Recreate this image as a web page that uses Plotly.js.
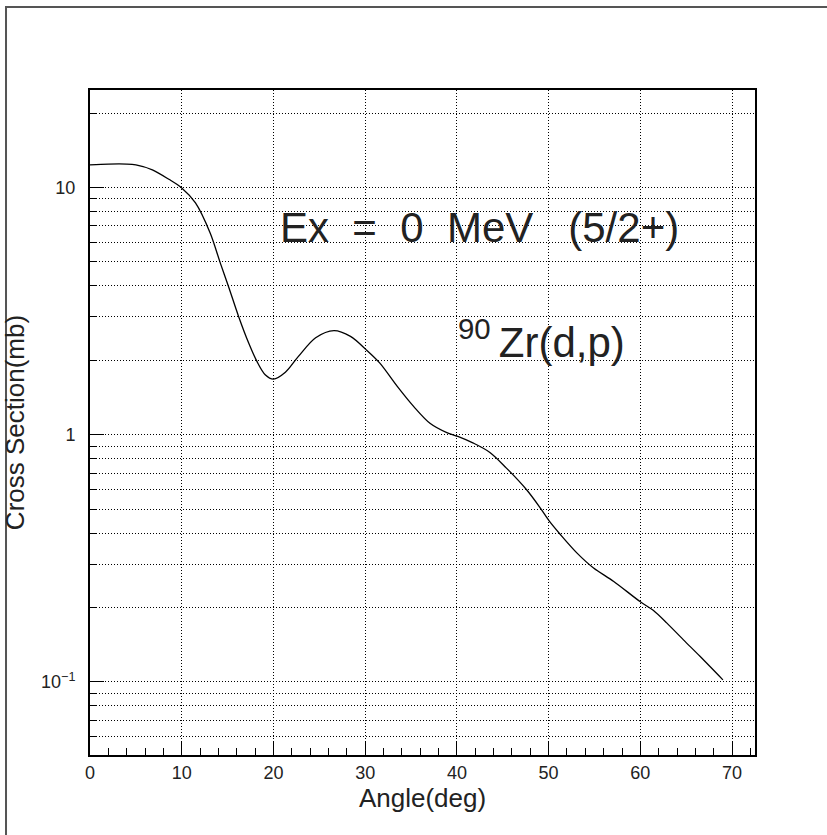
<!DOCTYPE html>
<html>
<head>
<meta charset="utf-8">
<script src="https://cdn.plot.ly/plotly-3.0.1.min.js"></script>
<style>html,body{margin:0;padding:0;background:#fff;}#chart{width:827px;height:835px;}</style>
</head>
<body>
<div id="chart"></div>
<script>
// Data
const angleDeg = [0, 2, 4, 5, 6.8, 8.6, 10, 11.5, 13.1, 14.2, 15.1, 16.2, 17.3, 18.2, 19.1, 20.0, 21.3, 22.7, 24.6, 26.6, 28.4, 30.1, 31.6, 33.5, 35.3, 37.1, 38.9, 40.1, 41.8, 43.6, 45.4, 47.6, 49.1, 50.1, 51.3, 53.1, 54.9, 57.1, 60.0, 61.4, 62.9, 64.7, 66.5, 69.0];
const crossSection = [12.35, 12.45, 12.45, 12.35, 11.8, 10.8, 9.97, 8.67, 6.55, 4.96, 3.98, 3.01, 2.35, 1.98, 1.75, 1.68, 1.79, 2.07, 2.47, 2.64, 2.50, 2.21, 1.95, 1.57, 1.30, 1.11, 1.02, 0.985, 0.925, 0.848, 0.733, 0.599, 0.505, 0.446, 0.394, 0.332, 0.289, 0.255, 0.211, 0.195, 0.173, 0.148, 0.127, 0.102];
const yMajorVals = [0.1, 1, 10];
const yMajorText = ["10<sup>\u22121</sup>", "1", "10"];
const yMinorVals = [0.06, 0.07, 0.08, 0.09, 0.2, 0.3, 0.4, 0.5, 0.6, 0.7, 0.8, 0.9, 2, 3, 4, 5, 6, 7, 8, 9, 20];
const xTitle = "Angle(deg)";
const yTitle = "Cross Section(mb)";
const label1 = "Ex\u00A0\u00A0=\u00A0\u00A00\u00A0\u00A0MeV\u00A0\u00A0\u00A0(5/2+)";
const label2 = "<sup>90\u00A0</sup>Zr(d,p)";

const FONT = "Liberation Sans, Arial, sans-serif";
const INK = "#222";
const DOT = "1px,2px";

const trace = {
  x: angleDeg, y: crossSection, type: "scatter", mode: "lines",
  line: {color: "#000", width: 1.3, shape: "spline", smoothing: 0.9},
  hoverinfo: "skip", showlegend: false
};

const layout = {
  width: 827, height: 835,
  margin: {l: 90, r: 72, t: 90, b: 80, pad: 0},
  paper_bgcolor: "#fff", plot_bgcolor: "#fff",
  font: {family: FONT, color: INK, size: 17},
  showlegend: false,
  xaxis: {
    range: [0, 72.5], tickmode: "linear", tick0: 0, dtick: 10,
    ticks: "inside", ticklen: 14, tickwidth: 1, tickcolor: "#000",
    showline: true, linecolor: "#000", linewidth: 2, mirror: true,
    showgrid: true, gridcolor: "#000", griddash: DOT, gridwidth: 1,
    zeroline: false, ticklabelstandoff: 0,
    tickfont: {family: FONT, size: 18, color: INK},
    minor: {dtick: 2, tick0: 0, ticks: "inside", ticklen: 7, tickwidth: 1, tickcolor: "#000", showgrid: false},
    title: {text: xTitle, font: {family: FONT, size: 26, color: INK}, standoff: 6}
  },
  yaxis: {
    type: "log", range: [-1.2955, 1.3947],
    tickmode: "array", tickvals: yMajorVals, ticktext: yMajorText,
    ticks: "inside", ticklen: 14, tickwidth: 1, tickcolor: "#000",
    showline: true, linecolor: "#000", linewidth: 2, mirror: true,
    showgrid: true, gridcolor: "#000", griddash: DOT, gridwidth: 1,
    zeroline: false, ticklabelstandoff: 9,
    tickfont: {family: FONT, size: 18, color: INK},
    minor: {tickmode: "array", tickvals: yMinorVals, ticks: "inside", ticklen: 7, tickwidth: 1, tickcolor: "#000",
            showgrid: true, gridcolor: "#000", griddash: DOT, gridwidth: 1},
    title: {text: yTitle, font: {family: FONT, size: 26, color: INK}, standoff: 9}
  },
  annotations: [
    {xref: "paper", yref: "paper", x: 0.2827, y: 0.7925, xanchor: "left", yanchor: "middle",
     text: label1, showarrow: false, font: {family: FONT, size: 42, color: INK}},
    {xref: "paper", yref: "paper", x: 0.551, y: 0.6255, xanchor: "left", yanchor: "middle",
     text: label2, showarrow: false, font: {family: FONT, size: 42, color: INK}}
  ],
  shapes: [
    {type: "rect", xref: "paper", yref: "paper", x0: -0.1263, x1: 3, y0: -3, y1: 1.1248,
     line: {color: "#555", width: 2}, fillcolor: "rgba(0,0,0,0)", layer: "below"}
  ]
};

Plotly.newPlot("chart", [trace], layout, {staticPlot: true, displayModeBar: false});
</script>
</body>
</html>
